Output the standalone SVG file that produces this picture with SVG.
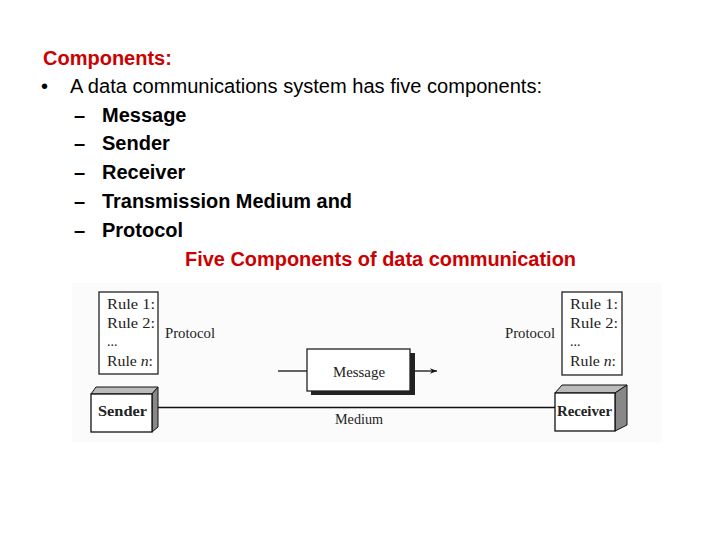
<svg xmlns="http://www.w3.org/2000/svg" width="720" height="540" viewBox="0 0 720 540">
<style>
.t{font-family:"Liberation Sans",Arial,sans-serif;font-size:20px;fill:#000}
.b{font-weight:bold}
.red{fill:#cc0000;font-weight:bold}
.s{font-family:"Liberation Serif","Times New Roman",serif;font-size:14px;fill:#222}
.box{fill:#fff;stroke:#222;stroke-width:1.3}
.face{fill:#fff;stroke:#111;stroke-width:1.3}
.top{fill:#bbb;stroke:#111;stroke-width:1}
.side{fill:#888;stroke:#111;stroke-width:1}
.ln{stroke:#111;stroke-width:1.3;fill:none}
</style>
<defs>
<marker id="ah" viewBox="0 0 10 10" refX="10" refY="5" markerWidth="9" markerHeight="7" markerUnits="userSpaceOnUse" orient="auto">
<path d="M0,1 L10,5 L0,9 L3,5 Z" fill="#111"/>
</marker>
</defs>
<rect width="720" height="540" fill="#fff"/>
<text class="t red" x="43" y="65">Components:</text>
<text class="t" x="41" y="93">•</text>
<text class="t" x="70" y="93" textLength="472" lengthAdjust="spacingAndGlyphs">A data communications system has five components:</text>
<g class="t b">
<text x="74" y="122">–</text><text x="102" y="122">Message</text>
<text x="74" y="150">–</text><text x="102" y="150">Sender</text>
<text x="74" y="179">–</text><text x="102" y="179">Receiver</text>
<text x="74" y="208">–</text><text x="102" y="208" textLength="250" lengthAdjust="spacingAndGlyphs">Transmission Medium and</text>
<text x="74" y="237">–</text><text x="102" y="237">Protocol</text>
</g>
<text class="t red" x="185" y="266" textLength="391" lengthAdjust="spacingAndGlyphs">Five Components of data communication</text>
<rect x="72" y="283" width="590" height="159" fill="#fbfbfb"/>
<g id="connectors">
<line class="ln" x1="153" y1="407.5" x2="555" y2="407.5" stroke-width="2"/>
<line class="ln" x1="278" y1="371" x2="307" y2="371"/>
<line class="ln" x1="410" y1="371" x2="437" y2="371" marker-end="url(#ah)"/>
<text class="s" x="335" y="424" textLength="48" lengthAdjust="spacingAndGlyphs">Medium</text>
</g>
<g id="sender-protocol">
<rect class="box" x="99" y="292" width="59" height="82"/>
<text class="s" x="107" y="309" textLength="48" lengthAdjust="spacingAndGlyphs">Rule 1:</text>
<text class="s" x="107" y="328" textLength="48" lengthAdjust="spacingAndGlyphs">Rule 2:</text>
<text class="s" x="107" y="346">...</text>
<text class="s" x="107" y="366" textLength="46" lengthAdjust="spacingAndGlyphs">Rule <tspan font-style="italic">n</tspan>:</text>
<text class="s" x="165" y="338" textLength="50" lengthAdjust="spacingAndGlyphs">Protocol</text>
</g>
<g id="sender">
<polygon class="top" points="91,394 96,387 158,387 152,394"/>
<polygon class="side" points="152,394 158,387 158,427 152,432"/>
<rect class="face" x="91" y="394" width="61" height="38"/>
<text class="s" x="98" y="416" font-weight="bold" font-size="15" textLength="49" lengthAdjust="spacingAndGlyphs">Sender</text>
</g>
<g id="message">
<rect x="311" y="353" width="104" height="42" fill="#222"/>
<rect class="box" x="307" y="349" width="103" height="42"/>
<text class="s" x="333" y="377" textLength="52" lengthAdjust="spacingAndGlyphs">Message</text>
</g>
<g id="receiver-protocol">
<rect class="box" x="562" y="292" width="60" height="83"/>
<text class="s" x="570" y="309" textLength="48" lengthAdjust="spacingAndGlyphs">Rule 1:</text>
<text class="s" x="570" y="328" textLength="48" lengthAdjust="spacingAndGlyphs">Rule 2:</text>
<text class="s" x="570" y="346">...</text>
<text class="s" x="570" y="366" textLength="46" lengthAdjust="spacingAndGlyphs">Rule <tspan font-style="italic">n</tspan>:</text>
<text class="s" x="505" y="338" textLength="50" lengthAdjust="spacingAndGlyphs">Protocol</text>
</g>
<g id="receiver">
<polygon class="top" points="555,393 562,385 627,385 615,393"/>
<polygon class="side" points="615,393 627,385 627,425 615,431"/>
<rect class="face" x="555" y="393" width="60" height="38"/>
<text class="s" x="557" y="416" font-weight="bold" font-size="15" textLength="55" lengthAdjust="spacingAndGlyphs">Receiver</text>
</g>
</svg>
